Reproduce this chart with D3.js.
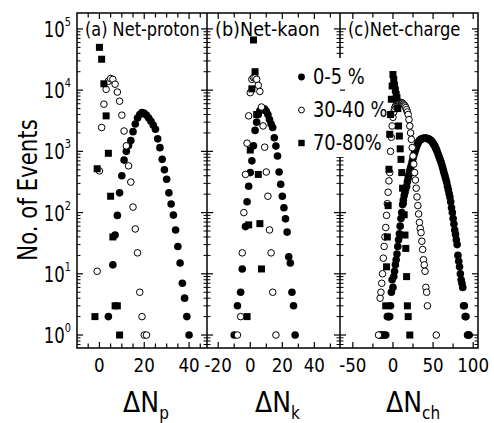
<!DOCTYPE html>
<html>
<head>
<meta charset="utf-8">
<script src="https://cdn.jsdelivr.net/npm/d3@7"></script>
<style>
  body { margin: 0; background: #fff; }
  svg text { font-family: "DejaVu Sans", sans-serif; fill: #000; }
</style>
</head>
<body>
<svg id="chart" width="494" height="423"></svg>
<script>
// [deltaN, events] pairs
var protonCentral = [[4,2],[6,14],[7,43],[8,90],[9,210],[10,400],[11,720],[12,1000],[13,1250],[14,1500],[15,2100],[16,2800],[17,3500],[18,4000],[19,4300],[20,4200],[21,3900],[22,3500],[23,3100],[24,2700],[25,2300],[26,1600],[27,1150],[28,740],[29,500],[30,350],[31,210],[32,138],[33,91],[34,52],[35,28],[36,15],[37,7],[38,4],[39,2],[40,1]];
var protonMid = [[-1,11],[0,480],[1,2450],[2,5900],[3,10300],[4,14000],[5,15500],[6,15000],[7,12500],[8,9300],[9,6600],[10,3900],[11,2150],[12,1230],[13,580],[14,315],[15,123],[16,54],[17,22],[18,5],[19,2],[20,1],[21,1]];
var protonPeriph = [[-2,2],[-1,520],[0,50000],[1,32000],[2,12700],[3,3800],[4,930],[5,185],[6,40],[7,3],[8,3],[9,1]];

var kaonCentral = [[-10,1],[-8,3],[-6,5],[-5,12],[-3,59],[-2,150],[-1,270],[0,450],[1,700],[2,1230],[3,2200],[4,3000],[5,4000],[6,4600],[7,4900],[8,5000],[9,4900],[10,4500],[11,4000],[12,3300],[13,2800],[14,2450],[15,1670],[16,1220],[17,840],[18,460],[19,290],[20,185],[21,120],[22,79],[23,48],[24,19],[25,15],[26,5],[27,3],[28,1]];
var kaonMid = [[-8,1],[-6,2],[-5,22],[-4,100],[-3,420],[-2,1360],[-1,3800],[0,9100],[1,15000],[2,16000],[3,16000],[4,15000],[5,12000],[6,9500],[7,5300],[8,2600],[9,1170],[10,460],[11,185],[12,52],[13,22],[14,5],[16,1]];
var kaonPeriph = [[-2,2],[-1,63],[0,1050],[1,10500],[2,66000],[3,20000],[4,4000],[5,420],[6,66],[7,12]];

var chargeCentral = [[-16,1],[-15,1],[-13,1],[-11,1],[-9,1],[-7,2],[-6,2],[-5,2],[-4,2],[-3,3],[-2,5],[-1,8],[0,6],[1,9],[2,11],[3,14],[4,17],[5,21],[6,28],[7,36],[8,45],[9,60],[10,80],[11,100],[12,135],[13,160],[14,190],[15,215],[16,245],[17,270],[18,320],[19,370],[20,420],[21,480],[22,540],[23,600],[24,680],[25,770],[26,860],[27,950],[28,1050],[29,1150],[30,1250],[31,1350],[32,1430],[33,1500],[34,1550],[35,1580],[36,1600],[37,1620],[38,1630],[39,1640],[40,1640],[41,1640],[42,1630],[43,1620],[44,1600],[45,1580],[46,1550],[47,1520],[48,1480],[49,1420],[50,1360],[51,1300],[52,1230],[53,1150],[54,1080],[55,1000],[56,920],[57,850],[58,780],[59,720],[60,660],[61,600],[62,540],[63,480],[64,430],[65,390],[66,350],[67,310],[68,270],[69,235],[70,205],[71,180],[72,150],[73,120],[74,100],[75,80],[76,65],[77,52],[78,44],[79,36],[80,30],[81,20],[82,16],[83,13],[84,10],[85,8],[86,7],[87,6],[88,3],[89,3],[90,2],[91,2],[93,1],[94,1],[95,1]];
var chargeMid = [[-18,1],[-16,4],[-15,5],[-14,7],[-13,10],[-12,18],[-11,28],[-10,40],[-9,57],[-8,90],[-7,140],[-6,215],[-5,330],[-4,450],[-3,1000],[-2,1700],[-1,2600],[0,3600],[1,4400],[2,5000],[3,5400],[4,5700],[5,5900],[6,6100],[7,6200],[8,6300],[9,6300],[10,6300],[11,6200],[12,6100],[13,5900],[14,5700],[15,5500],[16,5200],[17,4800],[18,4400],[19,4000],[20,3300],[21,2600],[22,2000],[23,1570],[24,1150],[25,840],[26,620],[27,450],[28,340],[29,250],[30,180],[31,130],[32,95],[33,69],[34,55],[35,47],[36,34],[37,25],[38,17],[39,14],[40,11],[41,6],[42,5],[43,3],[54,1]];
var chargePeriph = [[-9,3],[-8,13],[-7,40],[-6,130],[-5,510],[-4,1900],[-3,4000],[-2,7100],[-1,11700],[0,18000],[1,15000],[2,12000],[3,10000],[4,8500],[5,7500],[6,5000],[7,2600],[8,1780],[9,1100],[10,740],[11,450],[12,250],[13,150],[14,92],[15,43],[16,26],[17,9],[18,3],[19,2],[21,1]];

var yTicks = [1, 10, 100, 1000, 10000, 100000];
var legendLabels = ["0-5 %", "30-40 %", "70-80%"];

var panels = [
  {label: "(a) Net-proton", sx: 0.85, sub: "p", domain: [-10, 48], range: [77, 207], ticks: d3.range(-5, 46, 5), labels: [0, 20, 40], series: [protonCentral, protonMid, protonPeriph]},
  {label: "(b)Net-kaon", sx: 0.93, sub: "k", domain: [-27, 56], range: [207, 340], ticks: d3.range(-20, 51, 10), labels: [-20, 0, 20, 40], series: [kaonCentral, kaonMid, kaonPeriph]},
  {label: "(c)Net-charge", sx: 0.86, sub: "ch", domain: [-66, 106], range: [340, 478], ticks: d3.range(-50, 101, 25), labels: [-50, 0, 50, 100], series: [chargeCentral, chargeMid, chargePeriph]}
];

var svg = d3.select("#chart");
var plotTop = 13, plotBottom = 348;

var y = d3.scaleLog().domain([0.614, 182000]).range([plotBottom, plotTop]);

// minor log ticks
var minor = [];
for (var e = 0; e < 6; e++) {
  for (var m = 2; m < 10; m++) {
    var v = m * Math.pow(10, e);
    if (v < y.domain()[1]) minor.push(v);
  }
}
minor.push(0.7, 0.8, 0.9);

// the original font is a condensed sans, so squeeze text horizontally
var squeezed = function(parent, x, yy, sx, size) {
  return parent.append("text")
    .attr("transform", "translate(" + x + "," + yy + ") scale(" + sx + ",1)")
    .style("font-size", size + "px");
};

var drawMarker = function(g, kind, cx, cy, r) {
  if (kind == 0) {
    g.append("circle").attr("cx", cx).attr("cy", cy).attr("r", r).attr("fill", "#000");
  } else if (kind == 1) {
    g.append("circle").attr("cx", cx).attr("cy", cy).attr("r", r - 0.5).attr("fill", "#fff").attr("stroke", "#000").attr("stroke-width", 1);
  } else {
    g.append("rect").attr("x", cx - r).attr("y", cy - r).attr("width", 2 * r).attr("height", 2 * r).attr("fill", "#000");
  }
};

panels.forEach(function(p, pi) {
  var x = d3.scaleLinear().domain(p.domain).range(p.range);
  var g = svg.append("g");

  // data: filled, open, squares
  [0, 1, 2].forEach(function(k) {
    var sg = g.append("g");
    p.series[k].forEach(function(d) {
      drawMarker(sg, k, x(d[0]), y(d[1]), k == 2 ? 3.5 : 3.8);
    });
  });

  // y ticks on both sides, pointing inward
  [p.range[0], p.range[1]].forEach(function(px, side) {
    var dir = side == 0 ? 1 : -1;
    g.selectAll(null).data(yTicks).enter().append("line")
      .attr("x1", px).attr("x2", px + dir * 6)
      .attr("y1", function(d) { return y(d); }).attr("y2", function(d) { return y(d); })
      .attr("stroke", "#000").attr("stroke-width", 1.2);
    g.selectAll(null).data(minor).enter().append("line")
      .attr("x1", px).attr("x2", px + dir * 3.5)
      .attr("y1", function(d) { return y(d); }).attr("y2", function(d) { return y(d); })
      .attr("stroke", "#000").attr("stroke-width", 1);
  });

  // x ticks bottom and top
  [plotBottom, plotTop].forEach(function(py, side) {
    var dir = side == 0 ? -1 : 1;
    g.selectAll(null).data(p.ticks).enter().append("line")
      .attr("x1", function(d) { return x(d); }).attr("x2", function(d) { return x(d); })
      .attr("y1", py).attr("y2", function(d) { return py + dir * (p.labels.indexOf(d) >= 0 ? 6 : 4.5); })
      .attr("stroke", "#000").attr("stroke-width", 1.2);
  });

  p.labels.forEach(function(d) {
    squeezed(g, x(d), 372, 0.88, 19).attr("text-anchor", "middle").text(d);
  });

  squeezed(g, p.range[0] + 8, 36, p.sx, 19).text(p.label);

  var t = squeezed(g, (p.range[0] + p.range[1]) / 2 + 4, 412, 0.9, 28).attr("text-anchor", "middle");
  t.append("tspan").text("\u0394N");
  t.append("tspan").attr("dy", 7).style("font-size", "17px").text(p.sub);
});

// frame
svg.append("rect").attr("x", 77).attr("y", plotTop).attr("width", 478 - 77).attr("height", plotBottom - plotTop)
  .attr("fill", "none").attr("stroke", "#000").attr("stroke-width", 1.5);
[207, 340].forEach(function(px) {
  svg.append("line").attr("x1", px).attr("x2", px).attr("y1", plotTop).attr("y2", plotBottom)
    .attr("stroke", "#000").attr("stroke-width", 1.5);
});

// y tick labels
yTicks.forEach(function(d) {
  var t = squeezed(svg, 71, y(d) + 8, 0.75, 22).attr("text-anchor", "end");
  t.append("tspan").text("10");
  t.append("tspan").attr("dy", -11).style("font-size", "13px").text(Math.round(Math.log10(d)));
});

svg.append("text")
  .attr("transform", "translate(37,190) rotate(-90) scale(0.82,1)")
  .attr("text-anchor", "middle")
  .style("font-size", "26px")
  .text("No. of Events");

// legend sits on a white box that hides the panel border behind it
var legend = svg.append("g");
legend.append("rect").attr("x", 312).attr("y", 58).attr("width", 72).attr("height", 99).attr("fill", "#fff");
legend.append("line").attr("x1", 340).attr("x2", 345).attr("y1", y(10000)).attr("y2", y(10000))
  .attr("stroke", "#000").attr("stroke-width", 1.2);
legendLabels.forEach(function(l, i) {
  var ly = 77 + i * 33;
  drawMarker(legend, i, 301.5, ly, i == 2 ? 3.2 : 3.4);
  squeezed(legend, 313, ly + 7, 0.85, 21).text(l);
});
</script>
</body>
</html>
